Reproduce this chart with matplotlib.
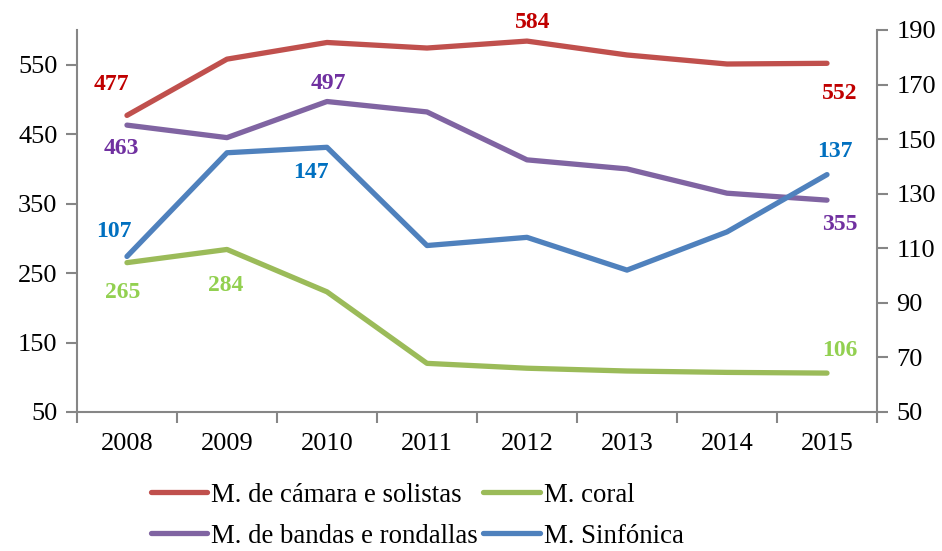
import matplotlib.pyplot as plt
from matplotlib.ticker import FixedLocator, NullFormatter

plt.rcParams['font.family'] = ['Liberation Serif', 'DejaVu Serif']

years = ['2008', '2009', '2010', '2011', '2012', '2013', '2014', '2015']
camara = [477, 558, 582, 574, 584, 564, 551, 552]
bandas = [463, 445, 497, 482, 413, 400, 365, 355]
coral = [265, 284, 223, 120, 113, 109, 107, 106]
sinfonica = [107, 145, 147, 111, 114, 102, 116, 137]  # right axis

line_cols = {'cam': '#C0504D', 'ban': '#8064A2', 'cor': '#9BBB59', 'sin': '#4F81BD'}
lab_cols = {'cam': '#C00000', 'ban': '#7030A0', 'cor': '#92D050', 'sin': '#0070C0'}

fig = plt.figure(figsize=(9.42, 5.51), dpi=100)
ax = fig.add_axes([0.0817, 0.2523, 0.8493, 0.6933])
ax2 = ax.twinx()

x = list(range(len(years)))
lw = 3.8
l1, = ax.plot(x, camara, color=line_cols['cam'], lw=lw, solid_capstyle='round', label='M. de cámara e solistas')
l2, = ax.plot(x, bandas, color=line_cols['ban'], lw=lw, solid_capstyle='round', label='M. de bandas e rondallas')
l3, = ax.plot(x, coral, color=line_cols['cor'], lw=lw, solid_capstyle='round', label='M. coral')
l4, = ax2.plot(x, sinfonica, color=line_cols['sin'], lw=lw, solid_capstyle='round', label='M. Sinfónica')

ax.set_xlim(-0.5, 7.5)
ax.set_ylim(50, 600)
ax2.set_ylim(50, 190)
ax.set_yticks(range(50, 600, 100))
ax2.set_yticks(range(50, 191, 20))

ax.xaxis.set_major_locator(FixedLocator([i - 0.5 for i in range(9)]))
ax.xaxis.set_major_formatter(NullFormatter())
ax.xaxis.set_minor_locator(FixedLocator(x))
ax.set_xticklabels(years, minor=True)
ax.tick_params(axis='x', which='minor', length=0, pad=15, labelsize=19)
ax.tick_params(axis='x', which='major', length=8, width=1.5, color='#868686', direction='out')

gray = '#868686'
for a in (ax, ax2):
    a.spines['top'].set_visible(False)
    for s in ('left', 'right', 'bottom'):
        a.spines[s].set_color(gray)
        a.spines[s].set_linewidth(1.5)
ax.spines['right'].set_visible(False)
ax2.spines['left'].set_visible(False)
ax2.spines['bottom'].set_visible(False)
ax.tick_params(axis='y', length=8, width=1.5, color=gray, labelsize=19, pad=6)
ax2.tick_params(axis='y', length=8, width=1.5, color=gray, labelsize=19, pad=6)

def lab(a, i, vals, key, dx, dy):
    a.annotate(str(vals[i]), (x[i], vals[i]), xytext=(dx, -dy), textcoords='offset pixels',
               ha='center', va='center', fontsize=17, fontweight='bold', color=lab_cols[key])

lab(ax, 0, camara, 'cam', -16, -31)
lab(ax, 4, camara, 'cam', 6, -19)
lab(ax, 7, camara, 'cam', 13, 30)
lab(ax, 0, bandas, 'ban', -6, 23)
lab(ax, 2, bandas, 'ban', 1, -18)
lab(ax, 7, bandas, 'ban', 13, 24)
lab(ax, 0, coral, 'cor', -4, 30)
lab(ax, 1, coral, 'cor', -1, 36)
lab(ax, 7, coral, 'cor', 13, -23)
lab(ax2, 0, sinfonica, 'sin', -13, -25)
lab(ax2, 2, sinfonica, 'sin', -16, 25)
lab(ax2, 7, sinfonica, 'sin', 8, -23)

fig.legend(handles=[l1, l2, l3, l4], loc='center', bbox_to_anchor=(0.443, 0.064), ncol=2,
           frameon=False, fontsize=19.3, handlelength=2.1, handletextpad=0.15,
           columnspacing=0.2, labelspacing=0.6, borderpad=0)

fig.savefig('out.png', dpi=100)
